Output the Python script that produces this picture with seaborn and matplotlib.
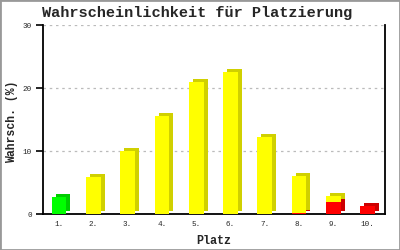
import matplotlib
matplotlib.use("Agg")
import matplotlib.pyplot as plt
import matplotlib.transforms as mtransforms
from matplotlib.patches import Rectangle
import seaborn as sns
import pandas as pd

places = ["1.", "2.", "3.", "4.", "5.", "6.", "7.", "8.", "9.", "10."]
green = [2.75, 0, 0, 0, 0, 0, 0, 0, 0, 0]
yellow = [0, 5.9, 10.1, 15.6, 21.0, 22.6, 12.3, 5.85, 1.0, 0]
red = [0, 0, 0, 0, 0, 0, 0, 0.2, 1.9, 1.3]
yticks = [0, 10, 20, 30]

df = pd.DataFrame({"Platz": places, "green": green, "yellow": yellow, "red": red})
df["top_yellow"] = df["red"] + df["yellow"]
df["top_green"] = df["top_yellow"] + df["green"]

sns.set_style("white")
plt.rcParams["font.family"] = ["Liberation Mono", "DejaVu Sans Mono"]

fig = plt.figure(figsize=(4, 2.5), dpi=100)
ax = fig.add_axes([0.108, 0.143, 0.855, 0.756])

W = 0.43
layers = [("top_green", "#00FF00", "#00CC00"),
          ("top_yellow", "#FFFF00", "#D0D000"),
          ("red", "#FF0000", "#CC0000")]

front_patches = []
for col, fc, dc in layers:
    n0 = len(ax.patches)
    sns.barplot(data=df, x="Platz", y=col, color=fc, width=W, saturation=1,
                ax=ax, linewidth=0, zorder=3)
    new = ax.patches[n0:]
    front_patches.append((new, dc))

# pseudo-3D depth: shifted dark copies behind front faces
shift = mtransforms.ScaledTranslation(4 / 100, 3 / 100, fig.dpi_scale_trans)
for patches, dc in front_patches:
    for p in patches:
        if p.get_height() <= 0:
            continue
        r = Rectangle((p.get_x(), p.get_y()), p.get_width(), p.get_height(),
                      facecolor=dc, edgecolor="none", zorder=2,
                      transform=ax.transData + shift)
        ax.add_patch(r)

ax.set_ylim(0, 30)
ax.set_xlim(-0.46, 9.51)
ax.set_yticks(yticks)
ax.set_yticklabels([str(t) for t in yticks], fontsize=5.5)
ax.tick_params(axis="y", length=5, width=1.2, color="black", pad=3, left=True)
ax.tick_params(axis="x", length=0, pad=5, labelsize=5.5)
ax.yaxis.grid(True, color="#BBBBBB", linestyle=(0, (2, 3)), linewidth=0.9, zorder=0)
ax.set_axisbelow(True)

for s in ["left", "bottom", "right"]:
    ax.spines[s].set_visible(True)
    ax.spines[s].set_color("black")
    ax.spines[s].set_linewidth(1.3)
ax.spines["top"].set_visible(False)

ax.set_xlabel("Platz", fontsize=8.5, fontweight="bold", labelpad=5)
ax.set_ylabel("Wahrsch. (%)", fontsize=8.3, fontweight="bold")
ax.yaxis.set_label_coords(-0.075, 0.49)
fig.text(0.4925, 0.95, "Wahrscheinlichkeit für Platzierung", ha="center", va="center",
         fontsize=11, fontweight="bold")

fig.patches.append(Rectangle((0, 0), 1, 1, transform=fig.transFigure,
                             facecolor="none", edgecolor="#999999", linewidth=2))

fig.savefig("out.png", dpi=100)
